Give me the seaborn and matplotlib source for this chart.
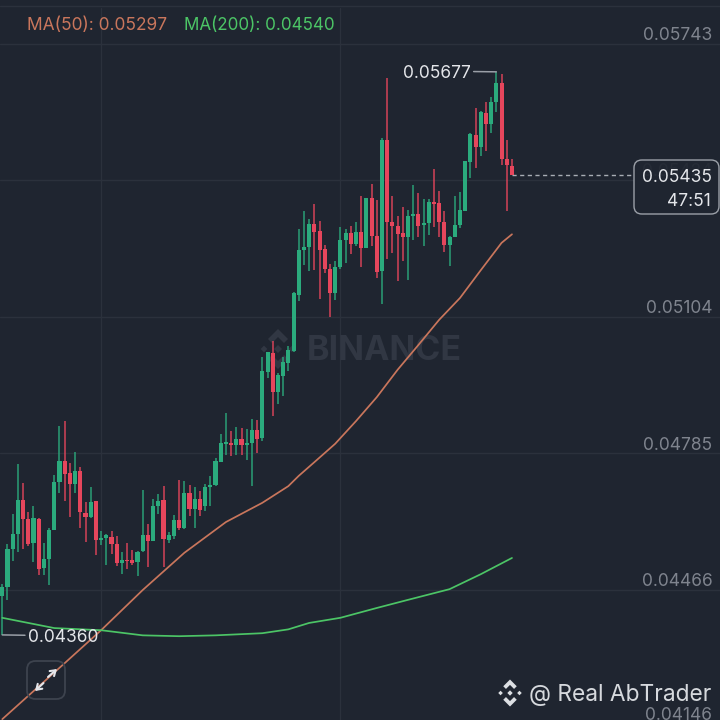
import numpy as np
import matplotlib
matplotlib.use("Agg")
import matplotlib.pyplot as plt
from matplotlib.patches import FancyBboxPatch, Polygon
import seaborn as sns

# prices, in units of 0.00001
opens = [4450, 4472, 4561, 4595, 4675, 4630, 4574, 4632, 4517, 4538,
         4605, 4717, 4766, 4739, 4712, 4744, 4646, 4636, 4673, 4581,
         4586, 4588, 4572, 4529, 4536, 4535, 4531, 4556, 4593, 4580,
         4661, 4675, 4581, 4591, 4628, 4609, 4693, 4654, 4677, 4661,
         4705, 4710, 4765, 4807, 4808, 4804, 4818, 4805, 4808, 4839,
         4820, 4976, 5020, 4927, 4965, 4995, 5025, 5155, 5260, 5268,
         5321, 5305, 5263, 5216, 5159, 5220, 5284, 5301, 5274, 5303,
         5266, 5381, 5293, 5210, 5518, 5326, 5316, 5299, 5291, 5340,
         5345, 5319, 5324, 5372, 5371, 5326, 5272, 5290, 5319, 5352,
         5467, 5529, 5502, 5581, 5555, 5606, 5652, 5473, 5457]
closes = [4472, 4561, 4597, 4675, 4630, 4572, 4633, 4515, 4538, 4606,
          4717, 4766, 4737, 4714, 4743, 4648, 4636, 4671, 4581, 4586,
          4593, 4572, 4529, 4536, 4533, 4529, 4555, 4593, 4580, 4662,
          4673, 4585, 4593, 4628, 4609, 4693, 4654, 4677, 4653, 4705,
          4710, 4766, 4808, 4811, 4804, 4819, 4805, 4809, 4840, 4819,
          4977, 5021, 4929, 4968, 4999, 5026, 5159, 5260, 5268, 5321,
          5303, 5260, 5215, 5159, 5221, 5284, 5299, 5274, 5302, 5266,
          5381, 5293, 5208, 5518, 5326, 5316, 5298, 5291, 5340, 5345,
          5317, 5324, 5372, 5368, 5326, 5272, 5290, 5319, 5354, 5468,
          5531, 5502, 5583, 5555, 5607, 5652, 5473, 5458, 5435]
highs = [4480, 4572, 4642, 4759, 4716, 4647, 4661, 4633, 4574, 4609,
         4734, 4848, 4861, 4761, 4787, 4753, 4671, 4706, 4673, 4603,
         4597, 4602, 4591, 4554, 4576, 4558, 4556, 4700, 4620, 4679,
         4689, 4708, 4601, 4641, 4722, 4720, 4710, 4705, 4696, 4714,
         4732, 4773, 4831, 4880, 4837, 4847, 4843, 4841, 4866, 4862,
         5011, 5022, 5047, 4972, 5011, 5036, 5163, 5309, 5351, 5332,
         5368, 5327, 5273, 5227, 5235, 5313, 5309, 5316, 5325, 5387,
         5381, 5415, 5377, 5522, 5663, 5387, 5340, 5360, 5355, 5412,
         5394, 5379, 5379, 5450, 5398, 5352, 5294, 5386, 5395, 5469,
         5533, 5593, 5585, 5606, 5617, 5677, 5672, 5517, 5474]
lows = [4360, 4441, 4533, 4554, 4560, 4568, 4531, 4499, 4499, 4476,
        4605, 4692, 4673, 4636, 4691, 4609, 4577, 4634, 4546, 4570,
        4524, 4550, 4521, 4503, 4515, 4524, 4497, 4554, 4519, 4580,
        4642, 4519, 4575, 4585, 4606, 4607, 4638, 4610, 4638, 4649,
        4661, 4708, 4765, 4780, 4778, 4780, 4780, 4769, 4709, 4786,
        4814, 4960, 4873, 4900, 4919, 4978, 5022, 5142, 5225, 5211,
        5213, 5146, 5207, 5103, 5143, 5217, 5229, 5251, 5270, 5221,
        5266, 5270, 5195, 5135, 5239, 5254, 5188, 5235, 5190, 5283,
        5291, 5270, 5295, 5315, 5291, 5256, 5223, 5290, 5312, 5352,
        5429, 5453, 5480, 5492, 5535, 5584, 5459, 5352, 5435]

ma50_idx = [0, 12, 19, 27, 35, 43, 50, 55, 57, 60, 64, 68, 72, 76, 80, 84, 88, 92, 96, 98]
ma50_val = [4163, 4294, 4371, 4465, 4552, 4624, 4669, 4708, 4732, 4764, 4807, 4860,
            4916, 4980, 5038, 5097, 5148, 5213, 5277, 5297]
ma200_idx = [0, 10, 19, 27, 34, 41, 50, 55, 59, 65, 72, 78, 86, 92, 98]
ma200_val = [4400, 4376, 4371, 4359, 4357, 4359, 4364, 4373, 4388, 4400, 4423, 4442,
             4467, 4502, 4540]

grid_prices = [5743, 5424, 5104, 4785, 4466, 4146]
vgrid_idx = [19, 65]
last_price = 5435
countdown = "47:51"

BG = "#1f2530"
GRID = "#2b313c"
UP = "#2bab7d"
DOWN = "#e6465c"
MA50_C = "#c9765c"
MA200_C = "#4cc566"
AXIS_TXT = "#7f848e"
WHITE = "#e4e6ea"
MARK = "#313743"
FS = 12.5

sns.set_theme(style="dark", rc={"axes.facecolor": BG, "figure.facecolor": BG})
plt.rcParams["font.family"] = ["Inter", "DejaVu Sans"]


def fx(px):
    return px / 720


def fy(px):
    return 1 - px / 720


def draw_logo(target, tr, cx, cy, r, color, zorder):
    # binance mark, offsets from the centre in pixels
    shapes = [
        [(0, -.2), (.2, 0), (0, .2), (-.2, 0)],
        [(-.7, -.17), (-.53, 0), (-.7, .17), (-.87, 0)],
        [(.7, -.17), (.87, 0), (.7, .17), (.53, 0)],
        [(0, -1), (.5, -.5), (.3, -.3), (0, -.6), (-.3, -.3), (-.5, -.5)],
        [(0, 1), (.5, .5), (.3, .3), (0, .6), (-.3, .3), (-.5, .5)],
    ]
    for s in shapes:
        pts = [(fx(cx + a * r), fy(cy + b * r)) for a, b in s]
        target.append(Polygon(pts, closed=True, transform=tr, facecolor=color,
                              edgecolor="none", zorder=zorder))


fig = plt.figure(figsize=(7.2, 7.2), dpi=100)
ax = fig.add_axes([0, 0, 1, 1])

opens_a = np.array(opens) / 1e5
closes_a = np.array(closes) / 1e5
highs_a = np.array(highs) / 1e5
lows_a = np.array(lows) / 1e5
idx = np.arange(len(opens))
colors = [UP if c >= o else DOWN for o, c in zip(opens, closes)]

# grid
for p in grid_prices:
    ax.axhline(p / 1e5, color=GRID, lw=1.0, zorder=1)
    # the lowest label sits higher, its line is off the picture
    off = 7.5 if p == grid_prices[-1] else 5.8
    ax.annotate(f"{p / 1e5:.5f}", xy=(1, p / 1e5), xycoords=("axes fraction", "data"),
                xytext=(-5.5, off), textcoords="offset points", ha="right", va="center",
                fontsize=FS, color=AXIS_TXT, zorder=2)
for v in vgrid_idx:
    ax.axvline(v, ymax=fy(8), color=GRID, lw=0.9, zorder=1)
ax.axhline(5831 / 1e5, color=GRID, lw=1.0, zorder=1)

# watermark, under the candles
marks = []
draw_logo(marks, fig.transFigure, 278, 349, 20, MARK, 1.5)
for m in marks:
    ax.add_patch(m)
ax.text(fx(384), fy(351.5), "BINANCE", transform=fig.transFigure, ha="center", va="center",
        fontsize=24.5, fontweight="bold", color=MARK, zorder=1.5)

# candles
ax.vlines(idx, lows_a, highs_a, colors=colors, lw=1.25, alpha=0.8, zorder=4)
ax.bar(idx, np.maximum(np.abs(closes_a - opens_a), 2e-5), bottom=np.minimum(opens_a, closes_a),
       width=0.78, color=colors, linewidth=0, zorder=5)

# moving averages
sns.lineplot(x=ma50_idx, y=np.array(ma50_val) / 1e5, ax=ax, color=MA50_C, lw=1.25,
             estimator=None, legend=False, zorder=6)
sns.lineplot(x=ma200_idx, y=np.array(ma200_val) / 1e5, ax=ax, color=MA200_C, lw=1.25,
             estimator=None, legend=False, zorder=6)

ax.set_xlim(-0.44, 138)
ax.set_ylim(4161 / 1e5, 5845 / 1e5)
ax.set_xticks([])
ax.set_yticks([])
ax.set_xlabel("")
ax.set_ylabel("")
for s in ax.spines.values():
    s.set_visible(False)

# high / low labels
hi = int(np.argmax(highs_a))
lo = int(np.argmin(lows_a))
ax.annotate(f"{highs_a[hi]:.5f}", xy=(hi, highs_a[hi]), xytext=(-18.7, -1), textcoords="offset points",
            ha="right", va="center", fontsize=FS, color=WHITE, zorder=8,
            arrowprops=dict(arrowstyle="-", color="#9a9fa7", lw=1.1, shrinkA=0, shrinkB=0,
                            relpos=(1, 0.6)))
ax.annotate(f"{lows_a[lo]:.5f}", xy=(lo, lows_a[lo]), xytext=(18.7, -1.5), textcoords="offset points",
            ha="left", va="center", fontsize=FS, color=WHITE, zorder=8,
            arrowprops=dict(arrowstyle="-", color="#9a9fa7", lw=1.1, shrinkA=0, shrinkB=0,
                            relpos=(0, 0.6)))

# last price line and box
ax.plot([idx[-1], (634 - 2.3) / 5.2], [last_price / 1e5] * 2, color="#a8adb4", lw=1,
        ls=(0, (3, 2.5)), zorder=3)
fig.patches.append(FancyBboxPatch((fx(634), fy(214)), fx(85), fx(54),
                                  boxstyle="round,pad=0,rounding_size=0.011",
                                  transform=fig.transFigure, facecolor=BG, alpha=0.93,
                                  edgecolor="none", zorder=9))
fig.patches.append(FancyBboxPatch((fx(634), fy(214)), fx(85), fx(54),
                                  boxstyle="round,pad=0,rounding_size=0.011",
                                  transform=fig.transFigure, facecolor="none",
                                  edgecolor="#9ba0a8", lw=1.0, zorder=10))
fig.text(fx(712), fy(178), f"{last_price / 1e5:.5f}", ha="right", va="center",
         fontsize=FS, color=WHITE, zorder=11)
fig.text(fx(711), fy(202), countdown, ha="right", va="center", fontsize=FS, color=WHITE, zorder=11)

# legend text
fig.text(fx(27), fy(26), "MA(50): 0.05297", ha="left", va="center", fontsize=FS, color=MA50_C)
fig.text(fx(184), fy(26), "MA(200): 0.04540", ha="left", va="center", fontsize=12.25, color=MA200_C)

# expand button
fig.patches.append(FancyBboxPatch((fx(27), fy(699)), fx(38), fx(38),
                                  boxstyle="round,pad=0,rounding_size=0.012",
                                  transform=fig.transFigure, facecolor="none",
                                  edgecolor="#3d434e", lw=1.3, zorder=7))
for tail, tip in [((43.5, 683), (35, 691)), ((48, 677), (57, 669))]:
    ax.annotate("", xy=(fx(tip[0]), fy(tip[1])), xytext=(fx(tail[0]), fy(tail[1])),
                xycoords="figure fraction", textcoords="figure fraction", zorder=8,
                arrowprops=dict(arrowstyle="->,head_length=0.3,head_width=0.2", color=WHITE,
                                lw=1.5, shrinkA=0, shrinkB=0))

# signature
draw_logo(fig.patches, fig.transFigure, 510, 693, 13.5, "#dcdfe3", 12)
fig.text(fx(529), fy(695), "@ Real AbTrader", ha="left", va="center", fontsize=16.4,
         color="#d6d9dd", zorder=12)

fig.savefig("out.png", dpi=100, facecolor=BG)
